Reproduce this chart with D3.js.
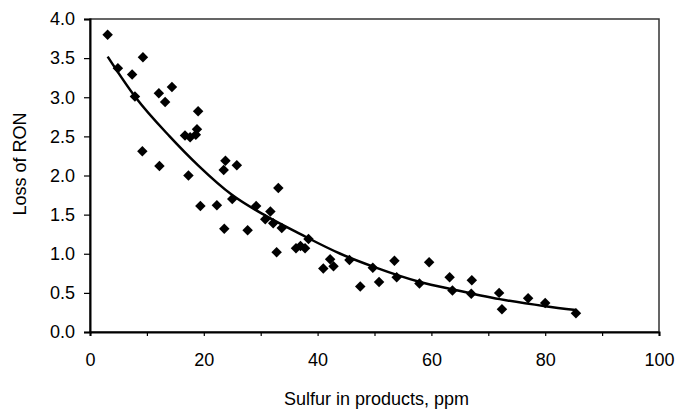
<!DOCTYPE html>
<html>
<head>
<meta charset="utf-8">
<script src="https://cdn.jsdelivr.net/npm/d3@7"></script>
<style>
  body { margin: 0; background: #fff; }
  svg { display: block; font-family: "Liberation Sans", Arial, sans-serif; }
</style>
</head>
<body>
<svg id="chart" width="678" height="410"></svg>
<script>
// scatter points: sulfur (ppm) vs loss of RON
const sulfur = [3.1, 4.9, 7.4, 7.9, 9.3, 9.2, 12.1, 12.2, 13.2, 14.4, 16.7, 17.6, 18.6, 18.8, 19.0, 17.3,
  23.8, 23.5, 25.8, 33.1, 19.4, 22.3, 23.6, 25.0, 27.7, 29.2, 30.8, 31.7, 32.2, 33.7, 32.8,
  36.2, 37.0, 37.8, 38.4, 41.0, 42.2, 42.8, 45.6, 47.5, 49.7, 50.8, 53.5, 53.9, 57.9, 59.6,
  63.2, 63.7, 67.1, 67.0, 71.9, 72.4, 77.0, 80.0, 85.4];
const ronLoss = [3.80, 3.37, 3.29, 3.01, 3.51, 2.31, 3.05, 2.12, 2.94, 3.13, 2.51, 2.49, 2.52, 2.59, 2.82, 2.00,
  2.19, 2.07, 2.13, 1.84, 1.61, 1.62, 1.32, 1.70, 1.30, 1.61, 1.44, 1.54, 1.39, 1.33, 1.02,
  1.07, 1.10, 1.07, 1.19, 0.81, 0.93, 0.84, 0.92, 0.58, 0.82, 0.64, 0.91, 0.70, 0.62, 0.89,
  0.70, 0.53, 0.66, 0.49, 0.50, 0.29, 0.43, 0.37, 0.24];

// trend line
const trendX = [3.1, 8, 14, 19, 25, 31, 37, 44, 50, 58, 64, 72, 80, 85.4];
const trendY = [3.52, 3.00, 2.50, 2.13, 1.75, 1.48, 1.25, 1.00, 0.83, 0.64, 0.54, 0.42, 0.33, 0.28];

const xTicks = [0, 10, 20, 30, 40, 50, 60, 70, 80, 90, 100];
const xLabels = [0, 20, 40, 60, 80, 100];
const yTicks = [0, 0.5, 1, 1.5, 2, 2.5, 3, 3.5, 4];

const svg = d3.select("#chart");
const margin = { top: 19, right: 19, bottom: 78, left: 90 };
const width = 678 - margin.left - margin.right;
const height = 410 - margin.top - margin.bottom;
const fontSize = 18;

const g = svg.append("g").attr("transform", `translate(${margin.left},${margin.top})`);
const x = d3.scaleLinear().domain([0, 100]).range([0, width]);
const y = d3.scaleLinear().domain([0, 4]).range([height, 0]);

// frame (top + right are lighter)
g.append("rect")
  .attr("width", width)
  .attr("height", height)
  .attr("fill", "none")
  .attr("stroke", "#333")
  .attr("stroke-width", 1.5);

// y axis
const yAxis = g.append("g")
  .call(d3.axisLeft(y).tickValues(yTicks).tickFormat(d3.format(".1f")).tickSize(6).tickPadding(9));
yAxis.select(".domain").attr("stroke-width", 2);
yAxis.selectAll(".tick line").attr("stroke-width", 1.2);
yAxis.selectAll("text").attr("font-size", fontSize).attr("fill", "#000").attr("font-family", "Liberation Sans, Arial, sans-serif");

// x axis: ticks every 10, labels every 20
const xAxis = g.append("g")
  .attr("transform", `translate(0,${height})`)
  .call(d3.axisBottom(x).tickValues(xTicks)
    .tickFormat(d => xLabels.includes(d) ? d : "")
    .tickSize(4).tickPadding(17));
xAxis.select(".domain").attr("stroke-width", 2);
xAxis.selectAll(".tick line").attr("stroke-width", 1.2);
xAxis.selectAll("text").attr("font-size", fontSize).attr("fill", "#000").attr("font-family", "Liberation Sans, Arial, sans-serif");

// trend line
const line = d3.line()
  .x((d, i) => x(trendX[i]))
  .y(d => y(d))
  .curve(d3.curveMonotoneX);

g.append("path")
  .datum(trendY)
  .attr("fill", "none")
  .attr("stroke", "#000")
  .attr("stroke-width", 2.5)
  .attr("d", line);

// diamond markers
const diamond = d3.symbol().type(d3.symbolSquare).size(55);
g.selectAll(".pt")
  .data(sulfur)
  .join("path")
  .attr("class", "pt")
  .attr("d", diamond)
  .attr("fill", "#000")
  .attr("transform", (d, i) => `translate(${x(d)},${y(ronLoss[i])}) rotate(45)`);

// axis titles
g.append("text")
  .attr("x", width / 2 + 2)
  .attr("y", height + 73)
  .attr("text-anchor", "middle")
  .attr("font-size", fontSize)
  .text("Sulfur in products, ppm");

g.append("text")
  .attr("transform", "rotate(-90)")
  .attr("x", -145)
  .attr("y", -64)
  .attr("text-anchor", "middle")
  .attr("font-size", fontSize)
  .text("Loss of RON");
</script>
</body>
</html>
